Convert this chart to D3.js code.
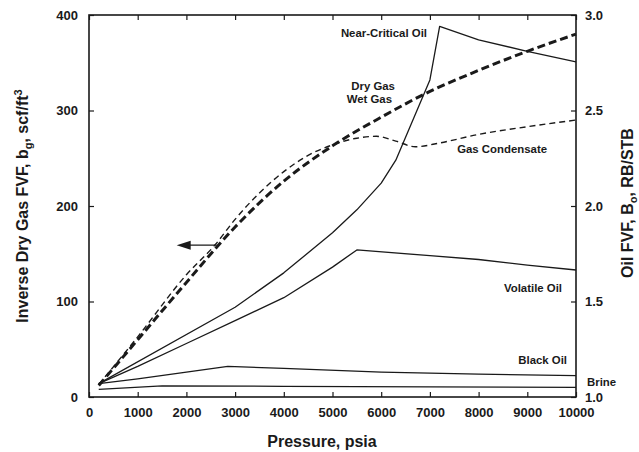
<!DOCTYPE html>
<html>
<head>
<meta charset="utf-8">
<script src="https://cdn.jsdelivr.net/npm/d3@7"></script>
<style>
  body { margin: 0; background: #fff; }
  text { font-family: "Liberation Sans", Arial, Helvetica, sans-serif; font-weight: bold; fill: #1a1a1a; }
</style>
</head>
<body>
<div id="chart"></div>
<script>
// gas curves, left axis (bg, scf/ft3)
const dryGasP  = [200, 1000, 2000, 3000, 4000, 5000, 6000, 7000, 8000, 9000, 10000];
const dryGasBg = [12, 60, 120, 178, 226, 263, 293, 320, 342, 362, 380];

const condP  = [200, 1000, 2000, 2600, 3000, 4000, 4500, 5000, 5500, 5900, 6300, 6700, 7200, 8000, 9000, 10000];
const condBg = [13, 63, 128, 160, 186, 236, 253, 264, 271, 273, 268, 262, 266, 275, 283, 290];

// oil / brine curves, right axis (Bo, RB/STB)
const nearCritP  = [200, 3000, 4000, 5000, 5500, 6000, 6300, 7000, 7200, 8000, 9000, 10000];
const nearCritBo = [1.07, 1.47, 1.65, 1.86, 1.98, 2.12, 2.24, 2.66, 2.94, 2.87, 2.81, 2.755];

const volatileP  = [200, 1000, 2000, 3000, 4000, 5000, 5500, 7000, 8000, 9000, 10000];
const volatileBo = [1.07, 1.16, 1.28, 1.40, 1.52, 1.68, 1.77, 1.74, 1.72, 1.69, 1.665];

const blackP  = [200, 1000, 2000, 2850, 4000, 6000, 8000, 10000];
const blackBo = [1.07, 1.095, 1.13, 1.16, 1.15, 1.13, 1.12, 1.112];

const brineP  = [200, 1500, 4000, 7000, 10000];
const brineBo = [1.04, 1.058, 1.056, 1.053, 1.05];

const xTicks  = d3.range(0, 10001, 1000);
const yLTicks = [0, 100, 200, 300, 400];
const yRTicks = [1.0, 1.5, 2.0, 2.5, 3.0];

const margin = {top: 15, right: 63, bottom: 55, left: 89},
      width = 639 - margin.left - margin.right,
      height = 452 - margin.top - margin.bottom;

const svg = d3.select("#chart").append("svg")
    .attr("width", 639).attr("height", 452)
  .append("g")
    .attr("transform", `translate(${margin.left},${margin.top})`);

const x  = d3.scaleLinear().domain([0, 10000]).range([0, width]);
const yL = d3.scaleLinear().domain([0, 400]).range([height, 0]);
const yR = d3.scaleLinear().domain([1.0, 3.0]).range([height, 0]);

// axes, ticks pointing inward
const styleAxis = g => {
  g.select(".domain").remove();
  g.selectAll("line").attr("stroke", "#1a1a1a").attr("stroke-width", 1.2);
  g.selectAll("text").style("font-size", "13px").attr("fill", "#1a1a1a");
};

svg.append("g").attr("transform", `translate(0,${height})`)
   .call(d3.axisBottom(x).tickValues(xTicks).tickSizeInner(-5).tickSizeOuter(0).tickPadding(11).tickFormat(d3.format("d")))
   .call(styleAxis);
svg.append("g")
   .call(d3.axisTop(x).tickValues(xTicks).tickSizeInner(-5).tickSizeOuter(0).tickFormat(""))
   .call(styleAxis);
svg.append("g")
   .call(d3.axisLeft(yL).tickValues(yLTicks).tickSizeInner(-5).tickSizeOuter(0).tickPadding(11).tickFormat(d3.format("d")))
   .call(styleAxis);
svg.append("g").attr("transform", `translate(${width},0)`)
   .call(d3.axisRight(yR).tickValues(yRTicks).tickSizeInner(-5).tickSizeOuter(0).tickPadding(9).tickFormat(d3.format(".1f")))
   .call(styleAxis);

svg.append("rect")
   .attr("width", width).attr("height", height)
   .attr("fill", "none").attr("stroke", "#1a1a1a").attr("stroke-width", 1.6);

// curves
const toPts = (ps, vs) => ps.map((p, i) => [p, vs[i]]);
const gasLine = d3.line().x(d => x(d[0])).y(d => yL(d[1])).curve(d3.curveMonotoneX);
const oilLine = d3.line().x(d => x(d[0])).y(d => yR(d[1]));

svg.append("path").datum(toPts(condP, condBg))
   .attr("d", gasLine).attr("fill", "none")
   .attr("stroke", "#1a1a1a").attr("stroke-width", 1.4).attr("stroke-dasharray", "6,4");

svg.append("path").datum(toPts(dryGasP, dryGasBg))
   .attr("d", gasLine).attr("fill", "none")
   .attr("stroke", "#1a1a1a").attr("stroke-width", 3).attr("stroke-dasharray", "8,4");

[[nearCritP, nearCritBo], [volatileP, volatileBo], [blackP, blackBo], [brineP, brineBo]].forEach(s => {
  svg.append("path").datum(toPts(s[0], s[1]))
     .attr("d", oilLine).attr("fill", "none")
     .attr("stroke", "#1a1a1a").attr("stroke-width", 1.3).attr("stroke-linejoin", "round");
});

// arrow pointing to the left axis
const ay = yL(159);
svg.append("line")
   .attr("x1", x(1950)).attr("x2", x(2620)).attr("y1", ay).attr("y2", ay)
   .attr("stroke", "#1a1a1a").attr("stroke-width", 1.3);
svg.append("path")
   .attr("d", `M${x(1800)},${ay} L${x(1800) + 14},${ay - 4.5} L${x(1800) + 14},${ay + 4.5} Z`)
   .attr("fill", "#1a1a1a");

// curve labels
const labels = [
  {text: "Near-Critical Oil", p: 6940, v: 377, anchor: "end"},
  {text: "Dry Gas", p: 6283, v: 321.5, anchor: "end"},
  {text: "Wet Gas", p: 6222, v: 307.5, anchor: "end"},
  {text: "Gas Condensate", p: 9405, v: 256, anchor: "end"},
  {text: "Volatile Oil", p: 9713, v: 110, anchor: "end"},
  {text: "Black Oil", p: 9815, v: 34.5, anchor: "end"},
  {text: "Brine", p: 10226, v: 11.5, anchor: "start"}
];
svg.selectAll(".lab").data(labels).enter().append("text")
   .attr("x", d => x(d.p)).attr("y", d => yL(d.v))
   .attr("text-anchor", d => d.anchor)
   .style("font-size", "11.4px")
   .text(d => d.text);

// axis titles
svg.append("text")
   .attr("x", 233).attr("y", height + 50)
   .attr("text-anchor", "middle").style("font-size", "16px")
   .text("Pressure, psia");

const lt = svg.append("text")
   .attr("transform", `translate(${-89 + 28},${height / 2}) rotate(-90)`)
   .attr("text-anchor", "middle").style("font-size", "16px");
lt.append("tspan").text("Inverse Dry Gas FVF, b");
lt.append("tspan").attr("dy", 4).style("font-size", "11px").text("g");
lt.append("tspan").attr("dy", -4).text(", scf/ft");
lt.append("tspan").attr("dy", -6).style("font-size", "11px").text("3");

const rt = svg.append("text")
   .attr("transform", `translate(${width + 57},${height / 2 - 3}) rotate(-90)`)
   .attr("text-anchor", "middle").style("font-size", "16px");
rt.append("tspan").text("Oil FVF, B");
rt.append("tspan").attr("dy", 4).style("font-size", "11px").text("o");
rt.append("tspan").attr("dy", -4).text(", RB/STB");
</script>
</body>
</html>
